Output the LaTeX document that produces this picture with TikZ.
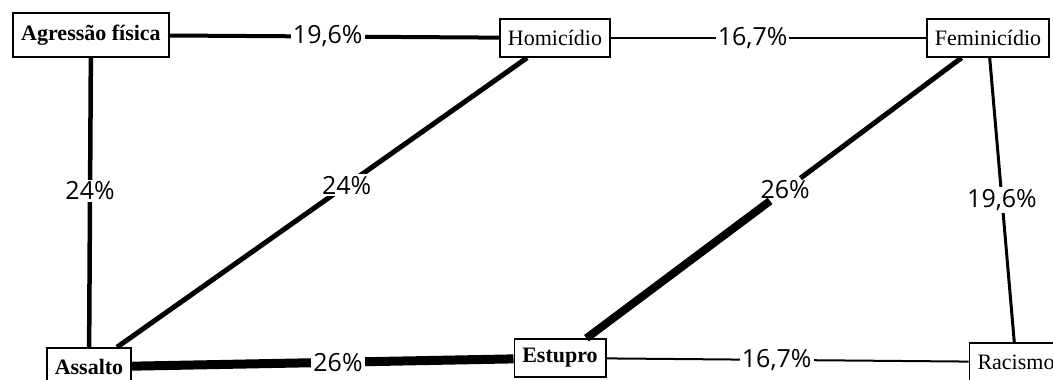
\documentclass[tikz,border=0pt]{standalone}
\usepackage{fontspec}
\setmainfont{Liberation Serif}
\newfontfamily\pctfont{Open Sans}
\tikzset{
  caixa/.style={draw,line width=1.6pt,fill=white,inner xsep=8pt,minimum height=38pt,
    font=\fontsize{22}{26}\selectfont},
  caixab/.style={caixa,font=\fontsize{22}{26}\selectfont\bfseries},
  rotulo/.style={fill=white,inner sep=2pt,font=\pctfont\fontsize{25}{28}\selectfont}
}
\begin{document}
\begin{tikzpicture}[x=1pt,y=1pt]
\useasboundingbox (0,0) rectangle (1053,380);
\clip (0,0) rectangle (1053,380);
\node[caixab,minimum height=44pt] (agressao) at (91,345) {Agressão física};
\node[caixa] (homicidio) at (555,342) {Homicídio};
\node[caixa] (feminicidio) at (988,342) {Feminicídio};
\node[caixab] (assalto) at (89,13) {Assalto};
\node[caixab] (estupro) at (560,22) {Estupro};
\node[caixa] (racismo) at (1016,18) {Racismo};
\draw[-][line width=4pt](agressao)--(homicidio) node[rotulo,pos=0.48]{19,6\%};
\draw[-][line width=2pt](homicidio)--(feminicidio) node[rotulo,pos=0.45]{16,7\%};
\draw[-][line width=4.5pt](agressao)--(assalto) node[rotulo,pos=0.46]{24\%};
\draw[-][line width=5pt](homicidio)--(assalto) node[rotulo,pos=0.44]{24\%};
\path (feminicidio)--(estupro) node[rotulo,pos=0.47] (p26) {26\%};
\draw[-][line width=5pt](feminicidio)--(p26);
\draw[-][line width=8pt](p26)--(estupro);
\draw[-][line width=3pt](feminicidio)--(racismo) node[rotulo,pos=0.5]{19,6\%};
\draw[-][line width=9pt](assalto)--(estupro) node[rotulo,pos=0.54]{26\%};
\draw[-][line width=2pt](estupro)--(racismo) node[rotulo,pos=0.47]{16,7\%};
\end{tikzpicture}
\end{document}
